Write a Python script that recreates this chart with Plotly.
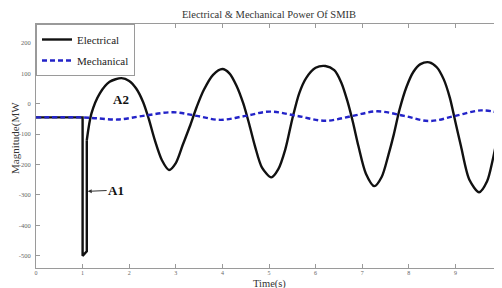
import plotly.graph_objects as go

# Electrical power (MW): pre-fault / fault segment
elec_fault_t = [0, 1.0, 1.0, 1.09, 1.09]
elec_fault_v = [-45, -45, -500, -485, -120]
# Electrical power (MW): post-fault swing
elec_swing_t = [1.09, 1.19, 1.37, 1.58, 1.835, 2.0, 2.15, 2.3, 2.42, 2.55, 2.7, 2.855,
                3.0, 3.15, 3.3, 3.45, 3.6, 3.8, 4.0, 4.15, 4.3, 4.45, 4.58, 4.7, 4.85, 5.05,
                5.2, 5.35, 5.5, 5.65, 5.8, 6.0, 6.21, 6.4, 6.55, 6.68, 6.8, 6.92, 7.08, 7.26,
                7.42, 7.56, 7.68, 7.8, 7.95, 8.1, 8.25, 8.44, 8.6, 8.75, 8.88, 9.0, 9.12,
                9.3, 9.51, 9.68, 9.8, 9.9, 10.0]
elec_swing_v = [-120, -32, 34, 72, 84, 75, 50, 5, -50, -120, -185, -218,
                -195, -135, -75, -10, 45, 95, 114, 100, 60, 0, -70, -140, -210, -242,
                -215, -150, -50, 35, 85, 118, 124, 110, 70, 10, -60, -140, -230, -271,
                -240, -170, -100, -20, 55, 105, 130, 136, 120, 80, 20, -60, -140,
                -250, -291, -255, -185, -110, -30]

# Mechanical power (MW)
mech_t = [0, 1.0, 1.3, 1.75, 2.3, 2.94, 3.45, 3.95, 4.5, 5.01, 5.6, 6.21, 6.8, 7.32, 7.9,
          8.44, 9.0, 9.55, 10.0]
mech_v = [-45, -45, -48, -52, -40, -28, -40, -53, -40, -26, -40, -56, -40, -25, -40,
          -57, -40, -22, -32]

x_ticks = [0, 1, 2, 3, 4, 5, 6, 7, 8, 9]
y_ticks = [-500, -400, -300, -200, -100, 0, 100, 200]

SERIF = "Liberation Serif"
ELEC_LINE = dict(color="#111111", width=2.4)

fig = go.Figure()
fig.add_trace(go.Scatter(x=elec_fault_t, y=elec_fault_v, mode="lines", name="Electrical",
                         legendgroup="elec", line=ELEC_LINE))
fig.add_trace(go.Scatter(x=elec_swing_t, y=elec_swing_v, mode="lines", name="Electrical",
                         legendgroup="elec", showlegend=False,
                         line=dict(**ELEC_LINE, shape="spline", smoothing=0.8)))
fig.add_trace(go.Scatter(x=mech_t, y=mech_v, mode="lines", name="Mechanical",
                         line=dict(color="#2323c8", width=2.4, dash="5px,3px", shape="spline",
                                   smoothing=1.0)))

axis_common = dict(showline=True, linecolor="#9a9a9a", linewidth=1, mirror="ticks",
                   ticks="inside", ticklen=4, tickcolor="#9a9a9a", showgrid=False,
                   zeroline=False)

fig.update_xaxes(range=[0, 10], tickvals=x_ticks, ticktext=[str(v) for v in x_ticks],
                 ticklabelstandoff=-1, tickfont=dict(family=SERIF, size=6, color="#666666"),
                 **axis_common)
fig.update_yaxes(range=[-540, 262], tickvals=y_ticks, ticktext=[str(v) for v in y_ticks],
                 ticklabelstandoff=3, tickfont=dict(family=SERIF, size=6.5, color="#666666"),
                 **axis_common)

# The page body adds an 8 px offset; margins compensate so the plot area
# sits at x 36..502, y 24..268 in the window.
fig.update_layout(
    width=502, height=288,
    margin=dict(l=28, r=8, t=16, b=28, autoexpand=False),
    paper_bgcolor="white", plot_bgcolor="white",
    showlegend=True,
    legend=dict(x=0, y=1, xanchor="left", yanchor="top", bgcolor="white",
                bordercolor="#9a9a9a", borderwidth=1,
                font=dict(family=SERIF, size=11, color="#222222"),
                itemwidth=30, tracegroupgap=2),
    title=dict(text="Electrical & Mechanical Power Of SMIB", x=0.5, xref="paper",
               y=1 - 6 / 288, yref="container", xanchor="center", yanchor="middle",
               font=dict(family=SERIF, size=10.5, color="#333333")),
    annotations=[
        dict(text="Time(s)", x=0.5, xref="paper", y=-0.064, yref="paper",
             showarrow=False, font=dict(family=SERIF, size=10.5, color="#333333"),
             xanchor="center", yanchor="middle"),
        dict(text="Magnitude(MW", x=-0.043, xref="paper", y=0.533, yref="paper",
             showarrow=False, textangle=-90, font=dict(family=SERIF, size=11, color="#333333"),
             xanchor="center", yanchor="middle"),
        dict(text="<b>A2</b>", x=1.82, y=14, xref="x", yref="y", showarrow=False,
             font=dict(family=SERIF, size=13, color="#111111")),
        dict(text="<b>A1</b>", x=1.11, y=-288, xref="x", yref="y", ax=1.72, ay=-284,
             axref="x", ayref="y", showarrow=True, arrowhead=2, arrowsize=0.8,
             arrowwidth=1, arrowcolor="#333333",
             font=dict(family=SERIF, size=13, color="#111111")),
    ],
)

fig.write_html("out.html")
